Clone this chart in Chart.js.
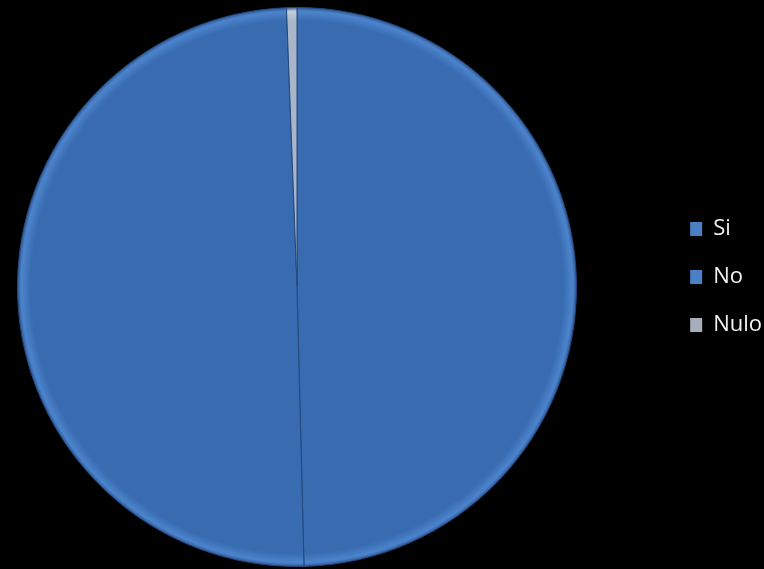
<!DOCTYPE html>
<html>
<head>
<meta charset="utf-8">
<title>Votación</title>
<script src="https://cdn.jsdelivr.net/npm/chart.js@4.4.1/dist/chart.umd.min.js"></script>
<style>
  html, body { margin: 0; padding: 0; background: #000; }
  #wrap { width: 764px; height: 569px; }
</style>
</head>
<body>
<div id="wrap"><canvas id="pie"></canvas></div>
<script>
/* ---------- data ---------- */
const labels = ["Si", "No", "Nulo"];
const votes = [49.6, 49.8, 0.6];
const sliceColors = ["#386bb0", "#386bb0", "#a9b6c9"];
const rimColors = ["#4c84cc", "#4c84cc", "#c3ccd9"];
const boxColors = ["#4a7fc4", "#4a80c6", "#a6aebb"];

/* pie sits left of centre, legend column a bit higher and further right */
const placeLegend = {
  id: "placeLegend",
  afterLayout(chart) {
    chart.chartArea.right = 594;
    chart.chartArea.width = chart.chartArea.right - chart.chartArea.left;
    if (chart.legend) {
      chart.legend.top -= 10;
      chart.legend.bottom -= 10;
      chart.legend.left += 8;
      chart.legend.right += 8;
    }
  }
};

// soft bevel towards the rim of each slice
function sliceFill(ctx) {
  const area = ctx.chart.chartArea;
  const i = ctx.dataIndex;
  if (!area || i === undefined) return sliceColors[i || 0];
  const cx = (area.left + area.right) / 2;
  const cy = (area.top + area.bottom) / 2;
  const r = Math.min(area.right - area.left, area.bottom - area.top) / 2;
  const g = ctx.chart.ctx.createRadialGradient(cx, cy, 0, cx, cy, r);
  g.addColorStop(0, sliceColors[i]);
  g.addColorStop(0.95, sliceColors[i]);
  g.addColorStop(0.985, rimColors[i]);
  g.addColorStop(1, "#2a5290");
  return g;
}

new Chart(document.getElementById("pie"), {
  type: "pie",
  data: {
    labels: labels,
    datasets: [
      {
        data: votes,
        backgroundColor: sliceFill,
        borderColor: "#24497c",
        borderWidth: 1
      }
    ]
  },
  options: {
    responsive: true,
    maintainAspectRatio: false,
    animation: false,
    layout: {
      padding: { left: 0, top: 7, bottom: 2, right: 0 }
    },
    plugins: {
      tooltip: { enabled: false },
      legend: {
        position: "right",
        labels: {
          color: "#f2f2f2",
          boxWidth: 12,
          boxHeight: 14,
          padding: 26,
          font: { family: "'Open Sans'", size: 22 },
          generateLabels(chart) {
            return labels.map((l, i) => ({
              text: l,
              fillStyle: boxColors[i],
              strokeStyle: "#1d3557",
              lineWidth: 0,
              fontColor: "#f2f2f2",
              index: i
            }));
          }
        }
      }
    }
  },
  plugins: [placeLegend]
});
</script>
</body>
</html>
